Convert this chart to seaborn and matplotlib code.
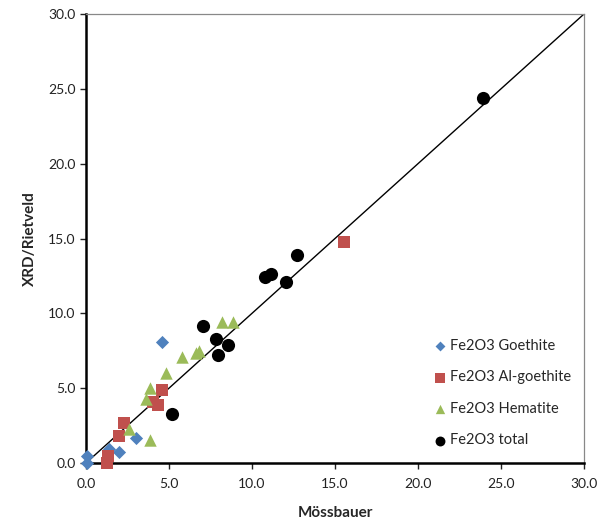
import matplotlib
matplotlib.use("Agg")
import matplotlib.pyplot as plt
import seaborn as sns
import pandas as pd

goethite_x = [4.6, 3.0, 2.0, 1.4, 0.08, 0.04]
goethite_y = [8.06, 1.65, 0.76, 0.91, 0.47, 0.02]

algoethite_x = [15.54, 4.6, 4.05, 4.36, 2.3, 2.0, 1.34, 1.28]
algoethite_y = [14.76, 4.88, 4.1, 3.87, 2.7, 1.83, 0.47, 0.02]

hematite_x = [3.86, 3.6, 4.8, 2.6, 3.86, 5.8, 6.63, 6.8, 8.17, 8.84]
hematite_y = [5.0, 4.3, 6.0, 2.3, 1.54, 7.06, 7.37, 7.5, 9.44, 9.44]

total_x = [23.9, 12.73, 10.78, 11.14, 12.05, 7.07, 7.83, 8.57, 7.97, 5.16]
total_y = [24.4, 13.9, 12.42, 12.6, 12.1, 9.15, 8.26, 7.88, 7.2, 3.25]

series_names = ["Fe2O3 Goethite", "Fe2O3 Al-goethite", "Fe2O3 Hematite", "Fe2O3 total"]
ticks = [0, 5, 10, 15, 20, 25, 30]
tick_labels = ["0.0", "5.0", "10.0", "15.0", "20.0", "25.0", "30.0"]

sns.set_style("white")
plt.rcParams["font.family"] = ["Lato", "DejaVu Sans"]

frames = []
for name, xs, ys in zip(series_names,
                        [goethite_x, algoethite_x, hematite_x, total_x],
                        [goethite_y, algoethite_y, hematite_y, total_y]):
    frames.append(pd.DataFrame({"x": xs, "y": ys, "series": name}))
df = pd.concat(frames, ignore_index=True)

colors = {"Fe2O3 Goethite": "#4F81BD", "Fe2O3 Al-goethite": "#C0504D",
          "Fe2O3 Hematite": "#9BBB59", "Fe2O3 total": "#000000"}
markers = {"Fe2O3 Goethite": "D", "Fe2O3 Al-goethite": "s",
           "Fe2O3 Hematite": "^", "Fe2O3 total": "o"}
msizes = {"Fe2O3 Goethite": 45, "Fe2O3 Al-goethite": 75,
          "Fe2O3 Hematite": 80, "Fe2O3 total": 90}

fig = plt.figure(figsize=(6.10, 5.19), dpi=100)
ax = fig.add_axes([86/610, 1 - 463/519, (584-86)/610, (463-14)/519])

ax.plot([0, 30], [0, 30], color="black", lw=1.0, zorder=1)

for name in series_names:
    sub = df[df["series"] == name]
    sns.scatterplot(data=sub, x="x", y="y", ax=ax, color=colors[name],
                    marker=markers[name], s=msizes[name], linewidth=0,
                    label=name, zorder=3, clip_on=False)

ax.set_xlim(0, 30)
ax.set_ylim(0, 30)
ax.set_xticks(ticks)
ax.set_xticklabels(tick_labels)
ax.set_yticks(ticks)
ax.set_yticklabels(tick_labels)
ax.tick_params(axis="both", direction="out", length=4, width=1, labelsize=10,
               colors="#222222", bottom=True, left=True)
ax.tick_params(axis="x", pad=7)
ax.set_xlabel("Mössbauer", fontsize=11, fontweight="bold", labelpad=11)
ax.set_ylabel("XRD/Rietveld", fontsize=11, fontweight="bold", labelpad=8)

for side in ["left", "bottom"]:
    ax.spines[side].set_color("black")
    ax.spines[side].set_linewidth(1.8)
for side in ["top", "right"]:
    ax.spines[side].set_color("#888888")
    ax.spines[side].set_linewidth(0.9)
    ax.spines[side].set_visible(True)

leg = ax.legend(loc="upper left", bbox_to_anchor=((434-86)/498, (463-339)/449),
                frameon=False, fontsize=10.5, labelspacing=1.2, handlelength=0.8,
                handletextpad=0.3, borderaxespad=0, borderpad=0, markerscale=0.75)

fig.savefig("out.png", dpi=100)
